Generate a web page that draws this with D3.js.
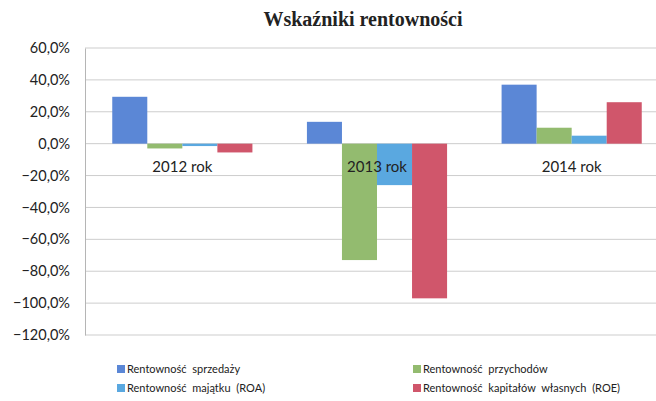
<!DOCTYPE html>
<html>
<head>
<meta charset="utf-8">
<script src="https://cdn.jsdelivr.net/npm/d3@7"></script>
<style>
  body { margin: 0; background: #fff; }
  svg { display: block; }
  .tick text { font-family: 'Lato', 'Open Sans', sans-serif; }
</style>
</head>
<body>
<svg width="656" height="401"></svg>
<script>
  const years = ['2012 rok', '2013 rok', '2014 rok']
  const seriesNames = [
    'Rentowność sprzedaży',
    'Rentowność przychodów',
    'Rentowność majątku (ROA)',
    'Rentowność kapitałów własnych (ROE)'
  ]
  const sprzedazy = [0.294, 0.137, 0.37]
  const przychodow = [-0.03, -0.73, 0.10]
  const roa = [-0.015, -0.26, 0.05]
  const roe = [-0.055, -0.97, 0.26]
  const yTicks = [0.6, 0.4, 0.2, 0, -0.2, -0.4, -0.6, -0.8, -1.0, -1.2]
  const colors = ['#5b87d6', '#93bb6f', '#5aa8e0', '#d0566b']

  const values = [sprzedazy, przychodow, roa, roe]
  const rows = years.map((yr, i) => ({ yr, vals: values.map(s => s[i]) }))

  const svg = d3.select('svg')
  const margin = { left: 85, right: -13, top: 48, bottom: 66 }
  const width = 656 - margin.left - margin.right
  const height = 401 - margin.top - margin.bottom

  svg.append('text').
    attr('x', 363).
    attr('y', 26).
    attr('text-anchor', 'middle').
    attr('font-family', "'Liberation Serif', serif").
    attr('font-weight', 'bold').
    attr('font-size', 20).
    attr('fill', '#222').
    text('Wskaźniki rentowności')

  const g = svg.append('g').
    attr('transform', `translate(${margin.left},${margin.top})`)

  const x = d3.scaleBand().domain(years).range([0, width]).paddingInner(0.28).paddingOuter(0.14)
  const x1 = d3.scaleBand().domain(d3.range(4)).range([0, x.bandwidth()])
  const y = d3.scaleLinear().domain([-1.2, 0.6]).range([height, 0])

  // gridlines
  g.append('g').
    selectAll('line').
    data(yTicks).
    enter().
    append('line').
    attr('x1', 0).
    attr('x2', width).
    attr('y1', d => y(d)).
    attr('y2', d => y(d)).
    attr('stroke', '#cdcdcd').
    attr('stroke-width', 1)

  const fmt = d => d3.format('.1f')(d * 100).replace('.', ',') + '%'
  const yAxis = g.append('g').
    call(d3.axisLeft(y).tickValues(yTicks).tickFormat(fmt).tickSize(0).tickPadding(15))
  yAxis.select('.domain').attr('stroke', '#b5b5b5')
  yAxis.selectAll('text').attr('font-size', 14.5).attr('fill', '#222')

  const groups = g.selectAll('.grp').
    data(rows).
    enter().
    append('g').
    attr('transform', d => `translate(${x(d.yr)},0)`)

  groups.selectAll('rect').
    data(d => d.vals.map((v, i) => ({ v, i }))).
    enter().
    append('rect').
    attr('x', d => x1(d.i)).
    attr('width', x1.bandwidth()).
    attr('y', d => y(Math.max(0, d.v))).
    attr('height', d => Math.abs(y(d.v) - y(0))).
    attr('fill', d => colors[d.i])

  // category labels next to the zero line
  g.selectAll('.cat').
    data(years).
    enter().
    append('text').
    attr('x', d => x(d) + x.bandwidth() / 2).
    attr('y', y(0) + 28).
    attr('text-anchor', 'middle').
    attr('font-family', "'Lato', sans-serif").
    attr('font-size', 15).
    attr('fill', '#222').
    text(d => d)

  // legend
  const legendPos = [[117, 369], [413, 369], [117, 388], [413, 388]]
  const legend = svg.append('g')
  const items = legend.selectAll('g').
    data(seriesNames).
    enter().
    append('g').
    attr('transform', (d, i) => `translate(${legendPos[i][0]},${legendPos[i][1]})`)
  items.append('rect').
    attr('x', 0).
    attr('y', -4).
    attr('width', 8).
    attr('height', 8).
    attr('fill', (d, i) => colors[i])
  items.append('text').
    attr('x', 10).
    attr('y', 4).
    attr('font-family', "'Lato', sans-serif").
    attr('font-size', 11).
    attr('word-spacing', 3).
    attr('fill', '#222').
    text(d => d)
</script>
</body>
</html>
